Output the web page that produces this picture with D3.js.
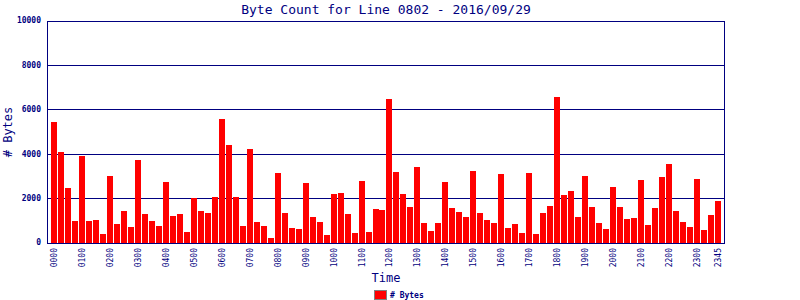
<!DOCTYPE html>
<html>
<head>
<meta charset="utf-8">
<script src="https://cdn.jsdelivr.net/npm/d3@7"></script>
<style>
body { margin:0; background:#fff; }
svg { display:block; }
text { font-family:"DejaVu Sans Mono", monospace; fill:#000080; }
</style>
</head>
<body>
<div id="chartsArea"></div>
<script>
// 15 minute slots, 0000 .. 2345
var times = [];
for (var h = 0; h < 24; ++h) {
	for (var m = 0; m < 60; m += 15) {
		times.push((h < 10 ? "0" : "") + h + (m < 10 ? "0" : "") + m);
	}
}

var bytes = [
	5430, 4075, 2450, 960, 3895, 960, 1010, 376, 2990, 830, 1415, 690,
	3715, 1280, 960, 735, 2720, 1190, 1280, 465, 2000, 1415, 1325, 2045,
	5565, 4390, 2045, 735, 4210, 915, 735, 195, 3130, 1325, 645, 600,
	2675, 1145, 915, 330, 2180, 2225, 1280, 420, 2765, 465, 1505, 1460,
	6465, 3175, 2180, 1595, 3400, 870, 510, 870, 2720, 1550, 1370, 1145,
	3220, 1325, 1010, 870, 3085, 645, 830, 420, 3130, 376, 1325, 1640,
	6556, 2135, 2315, 1145, 2990, 1595, 870, 600, 2495, 1595, 1050, 1100,
	2810, 780, 1550, 2945, 3535, 1415, 915, 690, 2855, 555, 1235, 1865
];

var xTicks = ["0000","0100","0200","0300","0400","0500","0600","0700","0800","0900","1000","1100",
	"1200","1300","1400","1500","1600","1700","1800","1900","2000","2100","2200","2300","2345"];
var yTicks = [0, 2000, 4000, 6000, 8000, 10000];

var navy = "#000080";
var dim = {left: 47, right: 725, top: 20.5, bottom: 242.5};

var svg = d3.select("#chartsArea").append("svg")
	.attr("width", 800)
	.attr("height", 300);

var x = d3.scaleBand()
	.domain(times)
	.range([dim.left, dim.right])
	.paddingInner(0.14)
	.paddingOuter(0.57);

var y = d3.scaleLinear()
	.domain([0, 10000])
	.range([dim.bottom, dim.top]);

// title
svg.append("text")
	.attr("x", (dim.left + dim.right) / 2)
	.attr("y", 14)
	.attr("text-anchor", "middle")
	.attr("font-size", 13)
	.text("Byte Count for Line 0802 - 2016/09/29");

// horizontal grid
svg.append("g")
	.attr("shape-rendering", "crispEdges")
	.selectAll("line")
	.data(yTicks)
	.enter().append("line")
	.attr("x1", dim.left)
	.attr("x2", dim.right)
	.attr("y1", function(d) { return Math.round(y(d)) + 0.5; })
	.attr("y2", function(d) { return Math.round(y(d)) + 0.5; })
	.attr("stroke", navy);

// bars
svg.append("g")
	.attr("shape-rendering", "crispEdges")
	.selectAll("rect")
	.data(bytes)
	.enter().append("rect")
	.attr("x", function(d, i) { return Math.round(x(times[i])); })
	.attr("y", function(d) { return Math.round(y(d)); })
	.attr("width", 6)
	.attr("height", function(d) { return Math.round(y(0)) - Math.round(y(d)); })
	.attr("fill", "#ff0000");

// frame
svg.append("rect")
	.attr("x", dim.left + 0.5)
	.attr("y", Math.round(dim.top) + 0.5)
	.attr("width", dim.right - dim.left - 1)
	.attr("height", Math.round(dim.bottom) - Math.round(dim.top))
	.attr("fill", "none")
	.attr("stroke", navy)
	.attr("shape-rendering", "crispEdges");

// y axis labels
svg.append("g")
	.selectAll("text")
	.data(yTicks)
	.enter().append("text")
	.attr("x", 41)
	.attr("y", function(d) { return y(d); })
	.attr("dy", "0.35em")
	.attr("text-anchor", "end")
	.attr("font-size", 8)
	.attr("font-weight", "bold")
	.text(function(d) { return d; });

// x axis labels
svg.append("g")
	.selectAll("text")
	.data(xTicks)
	.enter().append("text")
	.attr("transform", function(d) {
		return "translate(" + (x(d) + x.bandwidth() / 2 + 3) + "," + 248 + ") rotate(-90)";
	})
	.attr("text-anchor", "end")
	.attr("font-size", 8)
	.text(function(d) { return d; });

// axis titles
svg.append("text")
	.attr("x", (dim.left + dim.right) / 2)
	.attr("y", 282)
	.attr("text-anchor", "middle")
	.attr("font-size", 12)
	.text("Time");

svg.append("text")
	.attr("transform", "translate(12,132) rotate(-90)")
	.attr("text-anchor", "middle")
	.attr("font-size", 12)
	.text("# Bytes");

// legend
svg.append("rect")
	.attr("x", 374.5)
	.attr("y", 290.5)
	.attr("width", 12)
	.attr("height", 9)
	.attr("fill", "#ff0000")
	.attr("stroke", "#808080")
	.attr("shape-rendering", "crispEdges");

svg.append("text")
	.attr("x", 390)
	.attr("y", 298)
	.attr("font-size", 8)
	.attr("font-weight", "bold")
	.text("# Bytes");
</script>
</body>
</html>
